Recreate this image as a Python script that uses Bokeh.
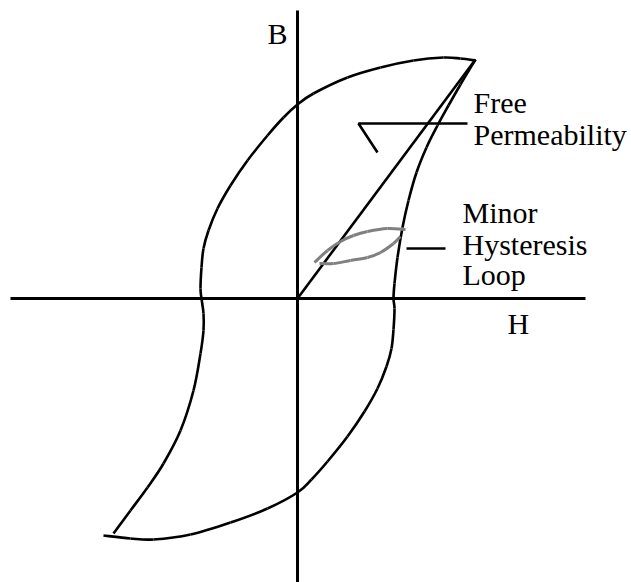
from bokeh.plotting import figure
from bokeh.models import Range1d
from bokeh.core.properties import value
from bokeh.embed import file_html
from bokeh.resources import INLINE

# Major loop, upper curve + left branch (H, B)
upper_h = [178, 163, 146, 116, 83, 50, 16, 0, -14, -30, -50, -67, -80, -89, -94, -96, -97,
           -96, -94, -94, -97, -104, -117, -134, -150, -167, -184]
upper_b = [238, 240, 241, 238, 231, 221, 205, 194, 181, 163, 138, 113, 90, 68, 50, 31, 10,
           0, -15, -32, -55, -92, -132, -165, -189, -212, -235]

# Major loop, right branch + lower curve
lower_h = [178, 163, 151, 140, 129, 119, 111, 105, 100, 97, 96, 97, 96, 94, 89, 80, 67, 50,
           30, 14, 0, -30, -67, -107, -144, -167, -194]
lower_b = [239, 214, 193, 173, 151, 126, 98, 71, 41, 15, 0, -10, -31, -50, -68, -90, -113, -138,
           -163, -181, -194, -210, -224, -236, -241, -240, -237]

# Free permeability line
perm_h = [178, 0]
perm_b = [239, 0]

# Minor hysteresis loop
minor_up_h = [17, 30, 43, 56, 70, 90, 108]
minor_up_b = [36, 48, 57, 63, 67, 70, 69]
minor_lo_h = [22, 36, 53, 70, 83, 96, 103]
minor_lo_b = [35, 35, 38, 41, 46, 55, 62]

# Axes extents
haxis_h = [-287, 288]
haxis_b = [0, 0]
vaxis_h = [0, 0]
vaxis_b = [288, -286]

# Leader lines
free_leader_h = [80, 61, 170]
free_leader_b = [146, 175, 175]
minor_leader_h = [109, 148]
minor_leader_b = [50, 50]

# Labels
label_text = ["B", "H", "Free", "Permeability", "Minor", "Hysteresis", "Loop"]
label_h = [-30, 210, 176, 176, 165, 165, 165]
label_b = [265, -25, 196, 164, 86, 54, 24]


def smooth_segments(xs, ys):
    """Cubic segments through the read points (Catmull-Rom style tangents)."""
    n = len(xs)
    seg = dict(x0=[], y0=[], x1=[], y1=[], cx0=[], cy0=[], cx1=[], cy1=[])
    for i in range(n - 1):
        i0 = max(i - 1, 0)
        i3 = min(i + 2, n - 1)
        seg["x0"].append(xs[i]); seg["y0"].append(ys[i])
        seg["x1"].append(xs[i + 1]); seg["y1"].append(ys[i + 1])
        seg["cx0"].append(xs[i] + (xs[i + 1] - xs[i0]) / 6.0)
        seg["cy0"].append(ys[i] + (ys[i + 1] - ys[i0]) / 6.0)
        seg["cx1"].append(xs[i + 1] - (xs[i3] - xs[i]) / 6.0)
        seg["cy1"].append(ys[i + 1] - (ys[i3] - ys[i]) / 6.0)
    return seg


p = figure(width=631, height=582, output_backend="svg", toolbar_location=None,
           x_range=Range1d(-297, 334), y_range=Range1d(-284, 298),
           min_border=0, min_border_left=0, min_border_right=0,
           min_border_top=0, min_border_bottom=0)
p.xaxis.visible = False
p.yaxis.visible = False
p.grid.visible = False
p.outline_line_color = None
p.background_fill_color = "white"
p.border_fill_color = "white"

blk = "black"
p.line(haxis_h, haxis_b, line_color=blk, line_width=3)
p.line(vaxis_h, vaxis_b, line_color=blk, line_width=3)
for xs, ys in [(upper_h, upper_b), (lower_h, lower_b)]:
    s = smooth_segments(xs, ys)
    p.bezier(x0=s["x0"], y0=s["y0"], x1=s["x1"], y1=s["y1"],
             cx0=s["cx0"], cy0=s["cy0"], cx1=s["cx1"], cy1=s["cy1"],
             line_color=blk, line_width=2.6)
p.line(perm_h, perm_b, line_color=blk, line_width=2.6)
p.line(free_leader_h, free_leader_b, line_color=blk, line_width=2.6)
p.line(minor_leader_h, minor_leader_b, line_color=blk, line_width=2.6)
for xs, ys in [(minor_up_h, minor_up_b), (minor_lo_h, minor_lo_b)]:
    s = smooth_segments(xs, ys)
    p.bezier(x0=s["x0"], y0=s["y0"], x1=s["x1"], y1=s["y1"],
             cx0=s["cx0"], cy0=s["cy0"], cx1=s["cx1"], cy1=s["cy1"],
             line_color="#808080", line_width=3)

p.text(x=label_h, y=label_b, text=label_text,
       text_font=value("Liberation Serif"),
       text_font_size="30px", text_color="black", text_baseline="alphabetic",
       text_align="left")

open("out.html", "w").write(file_html(p, INLINE))
